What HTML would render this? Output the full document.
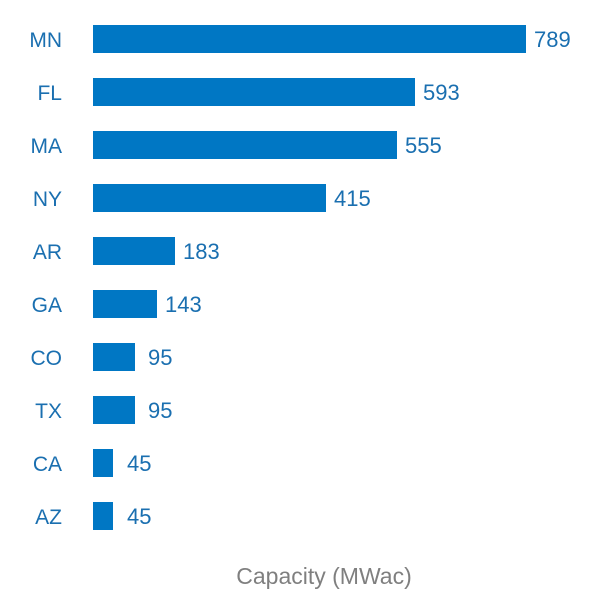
<!DOCTYPE html>
<html><head><style>
body{margin:0;background:#fff;}
svg text{font-family:"Liberation Sans",sans-serif;}
</style></head><body>
<svg width="600" height="600" xmlns="http://www.w3.org/2000/svg">
<g fill="#0077c4">
<rect x="93" y="25" width="433" height="28"/>
<rect x="93" y="78" width="322" height="28"/>
<rect x="93" y="131" width="304" height="28"/>
<rect x="93" y="184" width="233" height="28"/>
<rect x="93" y="237" width="82" height="28"/>
<rect x="93" y="290" width="64" height="28"/>
<rect x="93" y="343" width="42" height="28"/>
<rect x="93" y="396" width="42" height="28"/>
<rect x="93" y="449" width="20" height="28"/>
<rect x="93" y="502" width="20" height="28"/>
</g>
<g fill="#1a6fb0" font-size="21" text-anchor="end">
<text x="62" y="47">MN</text>
<text x="62" y="100">FL</text>
<text x="62" y="153">MA</text>
<text x="62" y="206">NY</text>
<text x="62" y="259">AR</text>
<text x="62" y="312">GA</text>
<text x="62" y="365">CO</text>
<text x="62" y="418">TX</text>
<text x="62" y="471">CA</text>
<text x="62" y="524">AZ</text>
</g>
<g fill="#1a6fb0" font-size="22">
<text x="534" y="47">789</text>
<text x="423" y="100">593</text>
<text x="405" y="153">555</text>
<text x="334" y="206">415</text>
<text x="183" y="259">183</text>
<text x="165" y="312">143</text>
<text x="148" y="365">95</text>
<text x="148" y="418">95</text>
<text x="127" y="471">45</text>
<text x="127" y="524">45</text>
</g>
<text x="324" y="584" font-size="23" fill="#7f7f7f" text-anchor="middle">Capacity (MWac)</text>
</svg>
</body></html>
